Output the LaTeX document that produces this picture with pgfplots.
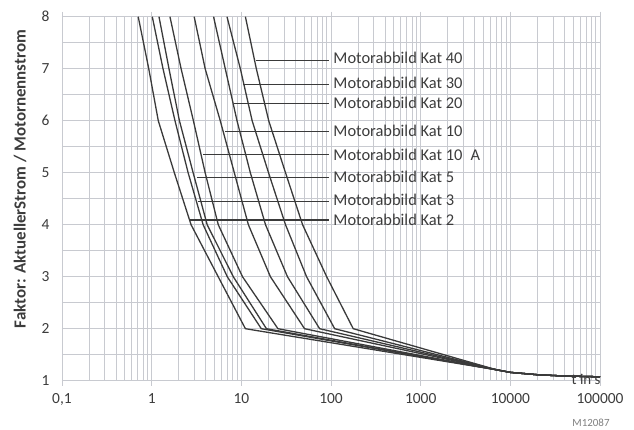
\documentclass[border=0pt]{standalone}
\usepackage{fontspec}
\setmainfont{Carlito}
\usepackage{pgfplots}
\pgfplotsset{compat=1.18}
\definecolor{gridgray}{RGB}{200,202,208}
\definecolor{curve}{RGB}{58,58,58}
\definecolor{txt}{RGB}{60,60,60}

\begin{document}
\begin{tikzpicture}
\path[use as bounding box] (-62bp,-49.3bp) rectangle (572bp,380.7bp);
\begin{axis}[
    scale only axis,
    width=538bp, height=364bp,
    clip=false,
    xmode=log,
    xmin=0.1, xmax=100000,
    ymin=1, ymax=8,
    xtick={0.1,1,10,100,1000,10000,100000},
    xticklabels={0{,}1,1,10,100,1000,10000,100000},
    ytick={1,2,3,4,5,6,7,8},
    yticklabels={1,2,3,4,5,6,7,8},
    minor ytick={1.5,2.5,3.5,4.5,5.5,6.5,7.5},
    grid=both,
    major grid style={gridgray, line width=0.9bp},
    minor grid style={gridgray, line width=0.9bp},
    axis line style={gridgray, line width=0.9bp},
    tick align=outside,
    major tick length=5bp,
    minor tick length=0pt,
    xtick style={gridgray, line width=0.9bp},
    ytick style={draw=none},
    tick label style={font=\fontsize{15.5}{17}\selectfont, text=txt},
    xticklabel style={yshift=-4bp},
    yticklabel style={xshift=-4bp},
]

% Kat 2
\addplot[curve, line width=1.3bp] coordinates {(0.708,8)(0.928,7)(1.185,6)(1.79,5)(2.75,4)(5.52,3)(11.1,2)
  (7000,1.21)(10000,1.16)(20000,1.115)(40000,1.09)(100000,1.075)};
% Kat 3
\addplot[curve, line width=1.3bp] coordinates {(1.016,8)(1.338,7)(1.82,6)(2.55,5)(3.75,4)(6.97,3)(16.7,2)
  (7000,1.21)(10000,1.16)(20000,1.115)(40000,1.09)(100000,1.075)};
% Kat 5
\addplot[curve, line width=1.3bp] coordinates {(1.207,8)(1.56,7)(2.04,6)(2.90,5)(4.16,4)(8.13,3)(19.05,2)
  (7000,1.21)(10000,1.16)(20000,1.115)(40000,1.09)(100000,1.075)};
% Kat 10 A
\addplot[curve, line width=1.3bp] coordinates {(1.60,8)(2.13,7)(2.92,6)(3.95,5)(5.53,4)(10.3,3)(25.6,2)
  (7000,1.21)(10000,1.16)(20000,1.115)(40000,1.09)(100000,1.075)};
% Kat 10
\addplot[curve, line width=1.3bp] coordinates {(2.98,8)(3.95,7)(5.82,6)(8.35,5)(11.98,4)(21.1,3)(50.7,2)
  (7000,1.21)(10000,1.16)(20000,1.115)(40000,1.09)(100000,1.075)};
% Kat 20
\addplot[curve, line width=1.3bp] coordinates {(4.90,8)(6.62,7)(8.95,6)(12.6,5)(18.6,4)(32.7,3)(74.7,2)
  (7000,1.21)(10000,1.16)(20000,1.115)(40000,1.09)(100000,1.075)};
% Kat 30
\addplot[curve, line width=1.3bp] coordinates {(6.92,8)(9.75,7)(13.2,6)(20.1,5)(31.1,4)(53.4,3)(109.9,2)
  (7000,1.21)(10000,1.16)(20000,1.115)(40000,1.09)(100000,1.075)};
% Kat 40
\addplot[curve, line width=1.3bp] coordinates {(11.1,8)(14.7,7)(20.2,6)(31.1,5)(48.2,4)(89.5,3)(177,2)
  (7000,1.21)(10000,1.16)(20000,1.115)(40000,1.09)(100000,1.075)};

% leader lines and labels
\begin{scope}[curve, line width=1.1bp]
\draw (axis cs:14.7,7.15) -- (axis cs:95,7.15);
\draw (axis cs:10.4,6.69) -- (axis cs:95,6.69);
\draw (axis cs:8.2,6.33) -- (axis cs:95,6.33);
\draw (axis cs:6.6,5.80) -- (axis cs:95,5.80);
\draw (axis cs:3.78,5.35) -- (axis cs:95,5.35);
\draw (axis cs:3.19,4.90) -- (axis cs:95,4.90);
\draw (axis cs:3.32,4.44) -- (axis cs:95,4.44);
\draw (axis cs:2.68,4.09) -- (axis cs:95,4.09);
\end{scope}
\begin{scope}[every node/.style={anchor=west, inner sep=0pt, text=txt, font=\fontsize{16.5}{18}\selectfont}]
\node at (axis cs:106,7.20) {Motorabbild Kat 40};
\node at (axis cs:106,6.72) {Motorabbild Kat 30};
\node at (axis cs:106,6.35) {Motorabbild Kat 20};
\node at (axis cs:106,5.81) {Motorabbild Kat 10};
\node at (axis cs:106,5.34) {Motorabbild Kat 10\enspace A};
\node at (axis cs:106,4.92) {Motorabbild Kat 5};
\node at (axis cs:106,4.48) {Motorabbild Kat 3};
\node at (axis cs:106,4.09) {Motorabbild Kat 2};
\end{scope}
\node[text=txt, font=\fontsize{15}{16}\selectfont, inner sep=0pt, anchor=base, yshift=-4bp] at (axis cs:70000,1) {t in s};
\end{axis}
\node[rotate=90, text=txt, font=\bfseries\fontsize{17}{19}\selectfont] at (-42bp,201.7bp) {Faktor: AktuellerStrom / Motornennstrom};
\node[text=gray, font=\fontsize{11}{12}\selectfont] at (529bp,-42bp) {M12087};
\end{tikzpicture}
\end{document}
